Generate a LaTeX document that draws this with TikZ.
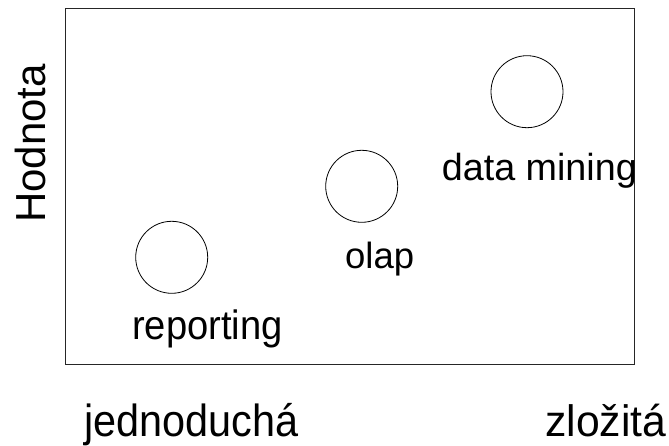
\documentclass[tikz,border=0pt]{standalone}
\usepackage{fontspec}
\setmainfont{Liberation Sans}
\begin{document}
\begin{tikzpicture}[x=1pt,y=-1pt,
  frame/.style={draw=black!85, line width=1.1pt},
  dot/.style={circle, draw, line width=0.8pt, minimum size=72pt, inner sep=0pt},
  lbl/.style={inner sep=0pt, anchor=base west},
]
\useasboundingbox (0,0) rectangle (669,446);
% chart frame
\node[frame, minimum width=569pt, minimum height=356pt, inner sep=0pt, anchor=north west] (box) at (65,8) {};

% the three techniques
\node[dot] (rep) at (171.7,257.3) {};
\node[dot] (ola) at (361.7,186.3) {};
\node[dot] (dmi) at (527,91.7) {};

\node[lbl] (replbl) at (132,339) {\fontsize{41}{48}\selectfont\scalebox{0.93}[1]{reporting}};
\node[lbl] (olalbl) at (345,268.3) {\fontsize{36.5}{44}\selectfont olap};
\node[lbl] (dmilbl) at (441.7,181) {\fontsize{37.7}{44}\selectfont data mining};

% axis captions
\node[inner sep=0pt, anchor=base west, rotate=90] (yl) at (45,223) {\fontsize{42}{50}\selectfont Hodnota};
\node[lbl] (xl) at (84,436.5) {\fontsize{45}{52}\selectfont\scalebox{0.92}[1]{jednoduchá}};
\node[lbl] (xr) at (545,436.5) {\fontsize{44}{52}\selectfont\scalebox{0.97}[1]{zložitá}};
\end{tikzpicture}
\end{document}
